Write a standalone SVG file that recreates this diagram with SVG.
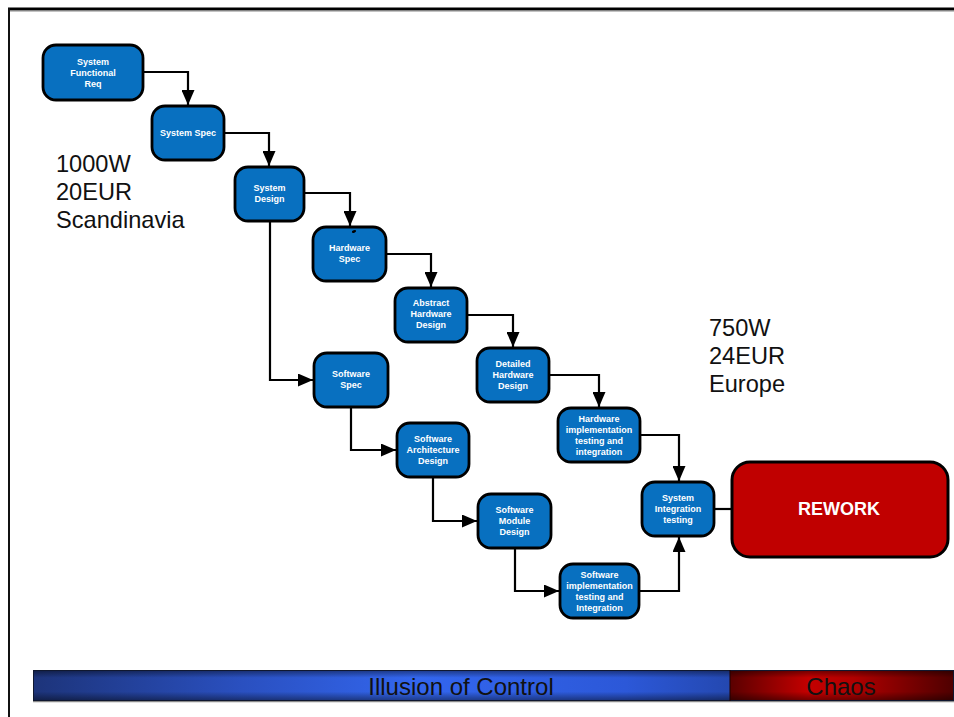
<svg xmlns="http://www.w3.org/2000/svg" width="954" height="717" viewBox="0 0 954 717">
  <style>
    .node rect { fill: #0870C0; stroke: #000; stroke-width: 2.8; }
    .node text { fill: #fff; font-family: "Liberation Sans", Arial, sans-serif; font-weight: bold; font-size: 9px; text-anchor: middle; }
    .conn { fill: none; stroke: #000; stroke-width: 2.2; }
    .big { font-family: "Liberation Sans", Arial, sans-serif; font-size: 23.6px; fill: #111; }
    .bar { font-family: "Liberation Sans", Arial, sans-serif; font-size: 24px; fill: #111; text-anchor: middle; }
  </style>
  <defs>
    <marker id="arrow" markerUnits="userSpaceOnUse" markerWidth="16" markerHeight="13" refX="15" refY="6.5" orient="auto">
      <path d="M0,0 L15,6.5 L0,13 Z" fill="#000"/>
    </marker>
    <linearGradient id="blueH" x1="0" y1="0" x2="1" y2="0">
      <stop offset="0" stop-color="#1d347a"/>
      <stop offset="0.3" stop-color="#2a50c0"/>
      <stop offset="0.55" stop-color="#3366ee"/>
      <stop offset="0.85" stop-color="#2c58d8"/>
      <stop offset="1" stop-color="#2448b0"/>
    </linearGradient>
    <linearGradient id="redH" x1="0" y1="0" x2="1" y2="0">
      <stop offset="0" stop-color="#5a0000"/>
      <stop offset="0.35" stop-color="#c40000"/>
      <stop offset="0.55" stop-color="#b00000"/>
      <stop offset="1" stop-color="#4e0000"/>
    </linearGradient>
    <linearGradient id="shadeV" x1="0" y1="0" x2="0" y2="1">
      <stop offset="0" stop-color="#000" stop-opacity="0.45"/>
      <stop offset="0.25" stop-color="#000" stop-opacity="0"/>
      <stop offset="0.7" stop-color="#000" stop-opacity="0"/>
      <stop offset="1" stop-color="#000" stop-opacity="0.45"/>
    </linearGradient>
  </defs>

  <rect width="954" height="717" fill="#fff"/>

  <!-- page frame -->
  <g id="frame">
    <line x1="8" y1="9" x2="954" y2="9" stroke="#000" stroke-width="3"/>
    <line x1="8" y1="11" x2="954" y2="11" stroke="#888" stroke-width="1"/>
    <line x1="9" y1="8" x2="9" y2="717" stroke="#111" stroke-width="2"/>
  </g>

  <!-- connectors -->
  <g id="connectors">
    <path class="conn" d="M143,72 H188 V105" marker-end="url(#arrow)"/>
    <path class="conn" d="M224,133 H269 V166" marker-end="url(#arrow)"/>
    <path class="conn" d="M304,193 H350 V226" marker-end="url(#arrow)"/>
    <path class="conn" d="M386,254 H431 V287" marker-end="url(#arrow)"/>
    <path class="conn" d="M467,315 H513 V347" marker-end="url(#arrow)"/>
    <path class="conn" d="M549,375 H599 V407" marker-end="url(#arrow)"/>
    <path class="conn" d="M640,435 H679 V481" marker-end="url(#arrow)"/>
    <path class="conn" d="M270,221 V380 H313" marker-end="url(#arrow)"/>
    <path class="conn" d="M351,407 V450 H396" marker-end="url(#arrow)"/>
    <path class="conn" d="M433,477 V521 H477" marker-end="url(#arrow)"/>
    <path class="conn" d="M515,548 V591 H559" marker-end="url(#arrow)"/>
    <path class="conn" d="M639,591 H679 V537" marker-end="url(#arrow)"/>
    <path class="conn" d="M714,509 H732"/>
  </g>

  <!-- process steps -->
  <g id="sys-func-req" class="node">
    <rect x="43" y="45" width="100" height="55" rx="13"/>
    <text x="93" y="65">System</text>
    <text x="93" y="76">Functional</text>
    <text x="93" y="87">Req</text>
  </g>
  <g id="sys-spec" class="node">
    <rect x="152" y="106" width="72" height="54" rx="13"/>
    <text x="188" y="136">System Spec</text>
  </g>
  <g id="sys-design" class="node">
    <rect x="235" y="167" width="69" height="54" rx="13"/>
    <text x="269.5" y="191">System</text>
    <text x="269.5" y="202">Design</text>
  </g>
  <g id="hw-spec" class="node">
    <rect x="313" y="227" width="73" height="54" rx="13"/>
    <ellipse cx="354" cy="231.5" rx="2.2" ry="1.2" fill="#000" transform="rotate(-20 354 231.5)"/>
    <text x="349.5" y="251">Hardware</text>
    <text x="349.5" y="262">Spec</text>
  </g>
  <g id="abs-hw-design" class="node">
    <rect x="395" y="288" width="72" height="54" rx="13"/>
    <text x="431" y="306">Abstract</text>
    <text x="431" y="317">Hardware</text>
    <text x="431" y="328">Design</text>
  </g>
  <g id="det-hw-design" class="node">
    <rect x="477" y="348" width="72" height="54" rx="13"/>
    <text x="513" y="367">Detailed</text>
    <text x="513" y="378">Hardware</text>
    <text x="513" y="389">Design</text>
  </g>
  <g id="hw-impl" class="node">
    <rect x="558" y="408" width="82" height="54" rx="13"/>
    <text x="599" y="422">Hardware</text>
    <text x="599" y="433">implementation</text>
    <text x="599" y="444">testing and</text>
    <text x="599" y="455">integration</text>
  </g>
  <g id="sw-spec" class="node">
    <rect x="314" y="353" width="74" height="54" rx="13"/>
    <text x="351" y="377">Software</text>
    <text x="351" y="388">Spec</text>
  </g>
  <g id="sw-arch-design" class="node">
    <rect x="397" y="423" width="72" height="54" rx="13"/>
    <text x="433" y="442">Software</text>
    <text x="433" y="453">Architecture</text>
    <text x="433" y="464">Design</text>
  </g>
  <g id="sw-module-design" class="node">
    <rect x="478" y="494" width="73" height="54" rx="13"/>
    <text x="514.5" y="513">Software</text>
    <text x="514.5" y="524">Module</text>
    <text x="514.5" y="535">Design</text>
  </g>
  <g id="sw-impl" class="node">
    <rect x="560" y="564" width="79" height="54" rx="13"/>
    <text x="599.5" y="578">Software</text>
    <text x="599.5" y="589">implementation</text>
    <text x="599.5" y="600">testing and</text>
    <text x="599.5" y="611">Integration</text>
  </g>
  <g id="sys-int-test" class="node">
    <rect x="642" y="482" width="72" height="54" rx="13"/>
    <text x="678" y="501">System</text>
    <text x="678" y="512">Integration</text>
    <text x="678" y="523">testing</text>
  </g>
  <g id="rework">
    <rect x="732" y="462" width="216" height="95" rx="18" fill="#C00000" stroke="#000" stroke-width="3"/>
    <text x="839" y="515" fill="#fff" font-family="Liberation Sans, Arial, sans-serif" font-weight="bold" font-size="18px" text-anchor="middle">REWORK</text>
  </g>

  <!-- annotations -->
  <g id="note-left" class="big">
    <text x="56" y="172">1000W</text>
    <text x="56" y="200">20EUR</text>
    <text x="56" y="228">Scandinavia</text>
  </g>
  <g id="note-right" class="big">
    <text x="709" y="336">750W</text>
    <text x="709" y="364">24EUR</text>
    <text x="709" y="392">Europe</text>
  </g>

  <!-- bottom scale bar -->
  <g id="scale-bar">
    <line x1="33" y1="701.5" x2="954" y2="701.5" stroke="#8a8a8a" stroke-width="1.5"/>
    <rect x="33" y="670" width="697" height="31" fill="url(#blueH)"/>
    <rect x="33" y="670" width="697" height="31" fill="url(#shadeV)"/>
    <rect x="730" y="670" width="224" height="31" fill="url(#redH)"/>
    <rect x="730" y="670" width="224" height="31" fill="url(#shadeV)"/>
    <rect x="33.5" y="670.5" width="920" height="30" fill="none" stroke="#101830" stroke-width="1"/>
    <line x1="730" y1="670" x2="730" y2="701" stroke="#200000" stroke-width="1"/>
    <text class="bar" x="461" y="695">Illusion of Control</text>
    <text class="bar" x="841" y="695">Chaos</text>
  </g>
</svg>
